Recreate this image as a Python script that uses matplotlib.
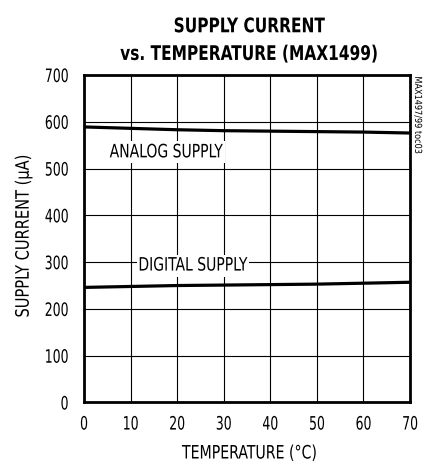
import matplotlib
matplotlib.use("Agg")
import matplotlib.pyplot as plt
from matplotlib.patheffects import AbstractPathEffect
from matplotlib.transforms import Affine2D

# data
suhu = [0, 10, 20, 30, 40, 50, 60, 70]
analog = [589, 586, 583, 581, 580, 579, 578, 576]
digital = [246, 248, 250, 251, 252, 253, 255, 257]

xticks = list(range(0, 71, 10))
yticks = list(range(0, 701, 100))


class Sempit(AbstractPathEffect):
    """Pipihkan teks secara horizontal (mirip Helvetica Condensed)."""

    def __init__(self, sx, anchor='center'):
        super().__init__()
        self.sx = sx
        self.anchor = anchor

    def draw_path(self, renderer, gc, tpath, affine, rgbFace=None):
        ext = tpath.get_extents()
        if self.anchor == 'left':
            x0 = ext.x0
        elif self.anchor == 'right':
            x0 = ext.x1
        else:
            x0 = (ext.x0 + ext.x1) / 2
        t = Affine2D().translate(-x0, 0).scale(self.sx, 1).translate(x0, 0) + affine
        renderer.draw_path(gc, tpath, t, rgbFace)


plt.rcParams['font.family'] = ['DejaVu Sans']
plt.rcParams['font.stretch'] = 'condensed'

fig = plt.figure(figsize=(4.24, 4.61), dpi=100)
ax = fig.add_axes([0.1981, 0.1269, 0.7689, 0.7104])

ax.plot(suhu, analog, color='black', lw=2.3, zorder=3)
ax.plot(suhu, digital, color='black', lw=2.3, zorder=3)

ax.set_xlim(0, 70)
ax.set_ylim(0, 700)
ax.set_xticks(xticks)
ax.set_yticks(yticks)
ax.tick_params(axis='y', length=0, labelsize=13.3, pad=11)
ax.tick_params(axis='x', length=0, labelsize=13.3, pad=9.4)
ax.grid(True, color='black', lw=0.8)
for s in ax.spines.values():
    s.set_linewidth(2.0)

for lbl in ax.get_yticklabels():
    lbl.set_path_effects([Sempit(0.75, 'right')])
for lbl in ax.get_xticklabels():
    lbl.set_path_effects([Sempit(0.75)])

ax.set_xlabel('TEMPERATURE (°C)', fontsize=13.3, va='baseline',
              path_effects=[Sempit(0.85)])
ax.xaxis.set_label_coords(0.509, -0.171)
ax.set_ylabel('SUPPLY CURRENT (μA)', fontsize=13.3, va='center', ha='center',
              rotation_mode='anchor', path_effects=[Sempit(0.88)])
ax.yaxis.set_label_coords(-0.185, 0.509)

for teks, x, y in [('ANALOG SUPPLY', 17.7, 524), ('DIGITAL SUPPLY', 23.4, 282)]:
    t = ax.text(x, y, teks, fontsize=13.3, ha='center', va='baseline', zorder=4,
                path_effects=[Sempit(0.84)],
                bbox=dict(facecolor='white', edgecolor='none', pad=1.5))
    t.get_bbox_patch().set_path_effects([Sempit(0.84)])

fig.text(0.587, 0.930, 'SUPPLY CURRENT', ha='center', va='baseline',
         fontsize=14.5, fontweight='bold', path_effects=[Sempit(0.85)])
fig.text(0.587, 0.870, 'vs. TEMPERATURE (MAX1499)', ha='center', va='baseline',
         fontsize=14.5, fontweight='bold', path_effects=[Sempit(0.85)])
fig.text(0.986, 0.75, 'MAX1497/99 toc03', rotation=270, ha='center', va='center',
         fontsize=7, path_effects=[Sempit(0.93)])

fig.savefig('out.png', dpi=100)
